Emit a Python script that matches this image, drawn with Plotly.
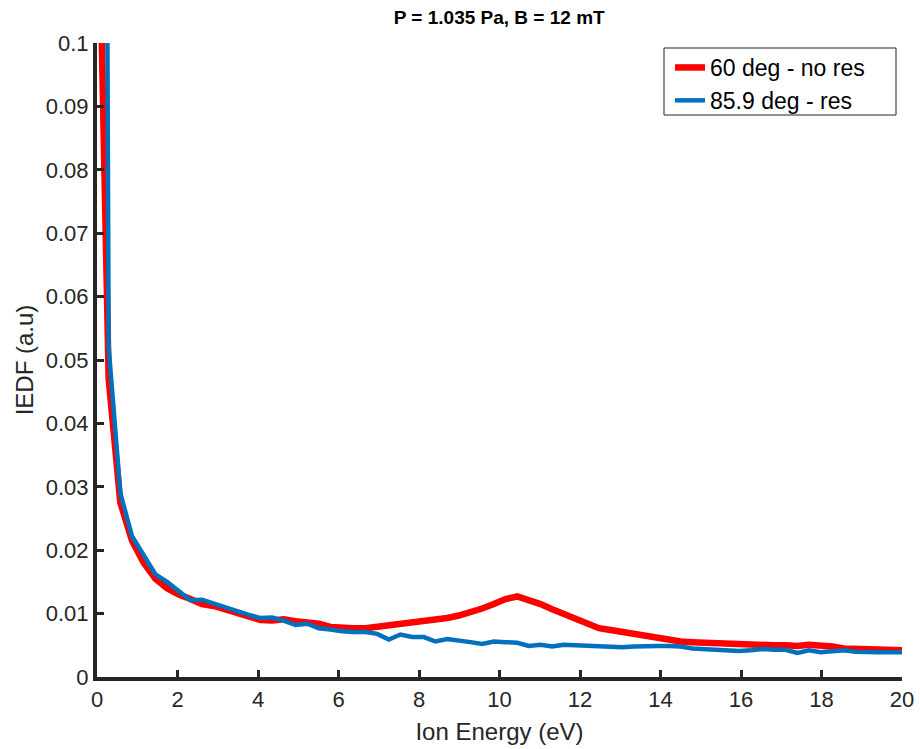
import plotly.graph_objects as go

energy = [0.00, 0.29, 0.58, 0.87, 1.16, 1.45, 1.74, 2.03, 2.32, 2.61,
          2.90, 3.19, 3.48, 3.77, 4.06, 4.35, 4.64, 4.93, 5.22, 5.51,
          5.80, 6.09, 6.38, 6.67, 6.96, 7.25, 7.54, 7.83, 8.12, 8.41,
          8.70, 8.99, 9.28, 9.57, 9.86, 10.15, 10.44, 10.73, 11.02, 11.31,
          11.60, 11.89, 12.18, 12.47, 12.76, 13.05, 13.34, 13.63, 13.92, 14.21,
          14.50, 14.79, 15.08, 15.37, 15.66, 15.95, 16.24, 16.53, 16.82, 17.11,
          17.40, 17.69, 17.98, 18.27, 18.56, 18.85, 19.14, 19.43, 19.72, 20.01]

iedf_60_nores = [0.137, 0.047, 0.0275, 0.0215, 0.0180, 0.0155, 0.0140, 0.0130, 0.0123, 0.0115,
                 0.0112, 0.0107, 0.0101, 0.0096, 0.0090, 0.0089, 0.0091, 0.0088, 0.0086, 0.0084,
                 0.0079, 0.0077, 0.0077, 0.0077, 0.0079, 0.0082, 0.0084, 0.0086, 0.0088, 0.0091,
                 0.0093, 0.0097, 0.0102, 0.0108, 0.0115, 0.0123, 0.0127, 0.0122, 0.0115, 0.0107,
                 0.0099, 0.0091, 0.0083, 0.0077, 0.0074, 0.0071, 0.0068, 0.0064, 0.0061, 0.0058,
                 0.0056, 0.0055, 0.0054, 0.0054, 0.0053, 0.0052, 0.0051, 0.0051, 0.0050, 0.0050,
                 0.0049, 0.0051, 0.0050, 0.0048, 0.0045, 0.0044, 0.0044, 0.0043, 0.0043, 0.0042]

iedf_859_res = [0.5, 0.052, 0.029, 0.0222, 0.0192, 0.0162, 0.0150, 0.0136, 0.0121, 0.0122,
                0.0116, 0.0109, 0.0103, 0.0098, 0.0093, 0.0094, 0.0089, 0.0082, 0.0084, 0.0077,
                0.0075, 0.0072, 0.0071, 0.0071, 0.0068, 0.0059, 0.0067, 0.0063, 0.0063, 0.0056,
                0.0060, 0.0058, 0.0055, 0.0052, 0.0056, 0.0055, 0.0054, 0.0049, 0.0051, 0.0048,
                0.0051, 0.0050, 0.0049, 0.0048, 0.0048, 0.0047, 0.0048, 0.0049, 0.0049, 0.0049,
                0.0048, 0.0045, 0.0044, 0.0044, 0.0042, 0.0041, 0.0042, 0.0044, 0.0043, 0.0043,
                0.0038, 0.0042, 0.0039, 0.0041, 0.0042, 0.0040, 0.0039, 0.0039, 0.0039, 0.0039]

x_ticks = [0, 2, 4, 6, 8, 10, 12, 14, 16, 18, 20]
y_ticks = [0, 0.01, 0.02, 0.03, 0.04, 0.05, 0.06, 0.07, 0.08, 0.09, 0.1]
y_tick_labels = ["0", "0.01", "0.02", "0.03", "0.04", "0.05", "0.06", "0.07", "0.08", "0.09", "0.1"]

FONT = "Liberation Sans, Arial, Helvetica, sans-serif"
AXC = "#262626"

fig = go.Figure()
fig.add_trace(go.Scatter(x=energy, y=iedf_60_nores, mode="lines", name="60 deg - no res",
                         line=dict(color="#ff0000", width=6.5)))
fig.add_trace(go.Scatter(x=energy, y=iedf_859_res, mode="lines", name="85.9 deg - res",
                         line=dict(color="#0072bd", width=4.5)))

PW = 920 - 97 - 18
PH = 749 - 43 - 72

fig.update_layout(
    width=920, height=749,
    margin=dict(l=97, r=18, t=43, b=72, autoexpand=False),
    paper_bgcolor="white", plot_bgcolor="white",
    font=dict(family=FONT, size=22, color=AXC),
    title=dict(text="<b>P = 1.035 Pa, B = 12 mT</b>", x=0.5426, xanchor="center",
               y=0.977, yanchor="middle", font=dict(size=19, color="#000000")),
    legend=dict(x=(670 - 97) / PW, xanchor="left", y=1 - 3 / PH, yanchor="top",
                borderwidth=0, bgcolor="rgba(0,0,0,0)",
                font=dict(size=23, color="#000000"), tracegroupgap=0,
                itemwidth=30),
    showlegend=True,
    shapes=[dict(type="rect", xref="paper", yref="paper",
                 x0=(664 - 97) / PW, x1=(896 - 97) / PW,
                 y0=1 - (115 - 43) / PH, y1=1 - (48 - 43) / PH,
                 line=dict(color=AXC, width=1), fillcolor="white", layer="above")],
)
fig.update_xaxes(range=[0, 20], tickvals=x_ticks, ticktext=[str(v) for v in x_ticks],
                 showline=True, linewidth=4, linecolor=AXC, mirror=False,
                 ticks="inside", ticklen=7, tickwidth=3, tickcolor=AXC,
                 showgrid=False, zeroline=False, automargin=False,
                 tickfont=dict(size=22, color=AXC),
                 title=dict(text="Ion Energy (eV)", standoff=13, font=dict(size=24, color=AXC)))
fig.update_yaxes(range=[0, 0.1], tickvals=y_ticks, ticktext=y_tick_labels,
                 showline=True, linewidth=4, linecolor=AXC, mirror=False,
                 ticks="inside", ticklen=7, tickwidth=3, tickcolor=AXC,
                 showgrid=False, zeroline=False, automargin=False,
                 tickfont=dict(size=22, color=AXC),
                 title=dict(text="IEDF (a.u)", standoff=6, font=dict(size=24, color=AXC)))

fig.write_html("out.html")
